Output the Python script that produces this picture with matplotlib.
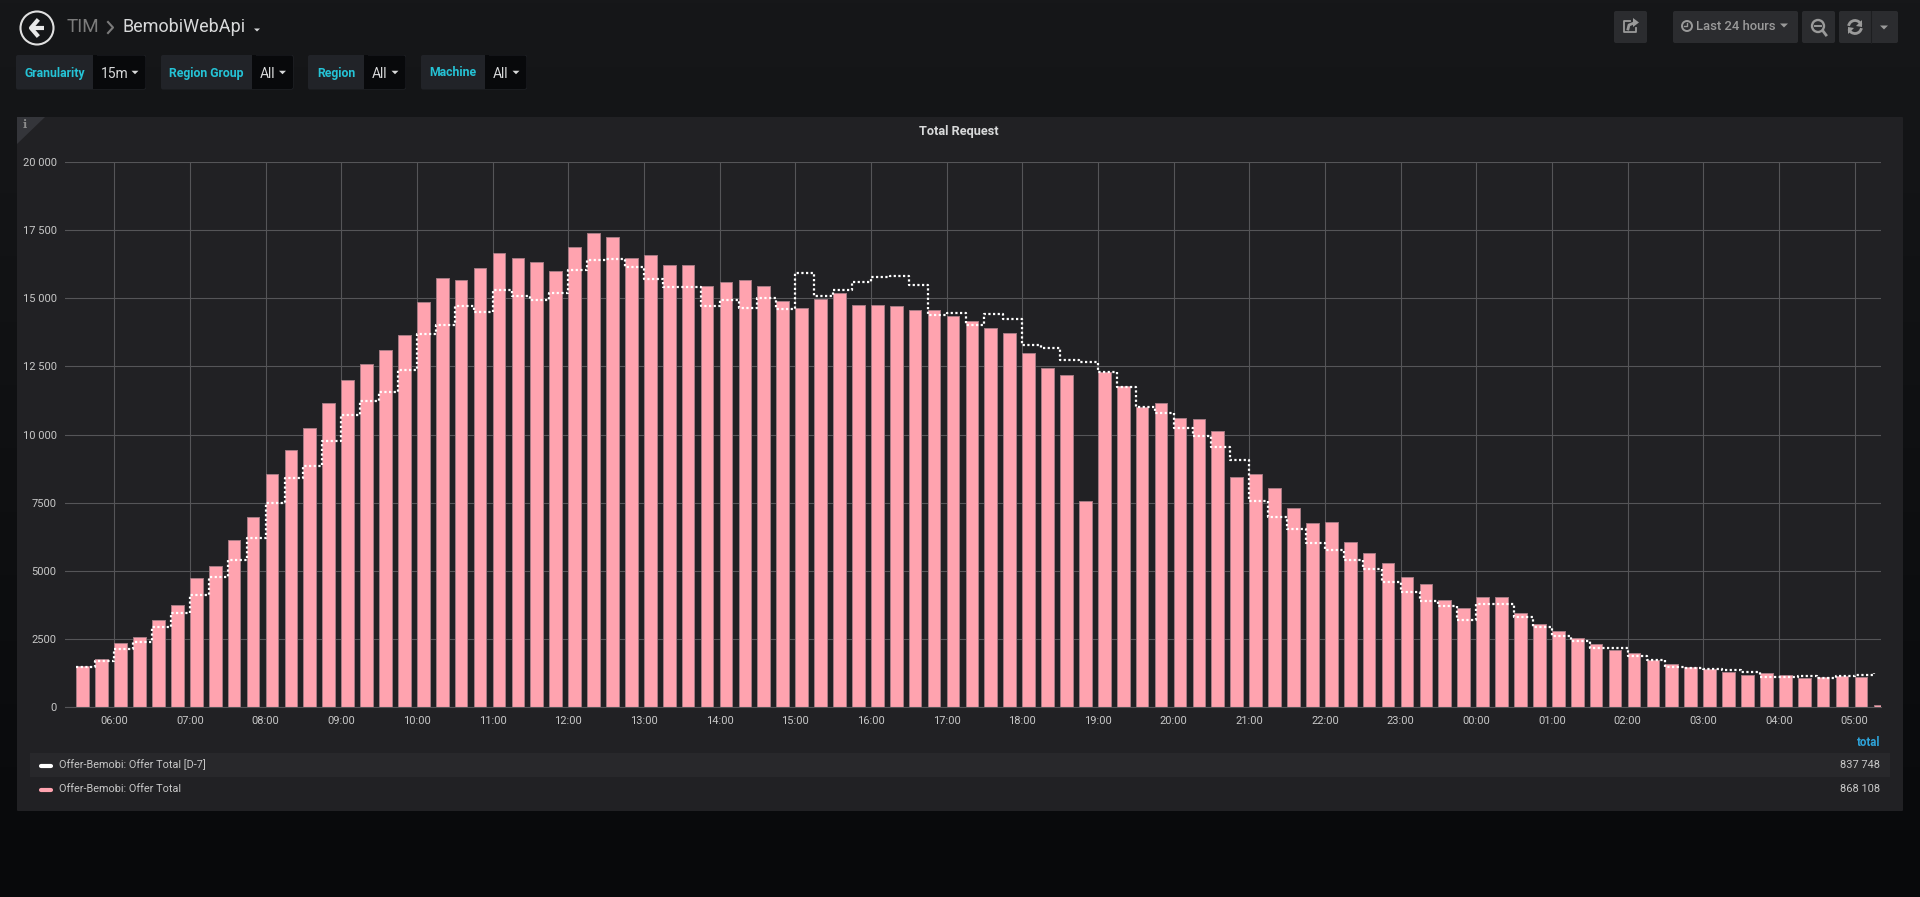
import numpy as np
import pandas as pd
import matplotlib
matplotlib.use('Agg')
import matplotlib.pyplot as plt
import matplotlib.dates as mdates
from matplotlib.patches import Rectangle, FancyBboxPatch, Polygon, Circle, Arc

plt.rcParams['font.family'] = ['Roboto', 'DejaVu Sans']

# values, one every 15 minutes from 05:30
offer_total = [1530, 1765, 2340, 2585, 3200, 3750, 4730, 5185, 6150, 6975,
               8555, 9450, 10245, 11165, 12010, 12575, 13115, 13665, 14880, 15735,
               15685, 16130, 16680, 16470, 16325, 16015, 16900, 17380, 17245, 16495,
               16605, 16240, 16215, 15440, 15590, 15660, 15440, 14890, 14655, 14975,
               15185, 14765, 14755, 14730, 14585, 14570, 14365, 14165, 13920, 13740,
               13005, 12440, 12170, 7575, 12280, 11780, 11000, 11175, 10600, 10565,
               10145, 8430, 8565, 8050, 7305, 6755, 6790, 6065, 5660, 5280,
               4780, 4520, 3935, 3625, 4030, 4045, 3445, 3050, 2795, 2525,
               2315, 2095, 1975, 1730, 1605, 1495, 1410, 1300, 1200, 1250,
               1175, 1090, 1105, 1150, 1105, 100]
offer_d7 = [1485, 1690, 2130, 2400, 2955, 3470, 4120, 4780, 5405, 6215,
            7510, 8395, 8835, 9755, 10710, 11240, 11555, 12380, 13690, 14005,
            14720, 14510, 15305, 15100, 14940, 15210, 16040, 16395, 16460, 16150,
            15710, 15415, 15405, 14730, 14940, 14645, 15000, 14620, 15930, 15085,
            15320, 15615, 15770, 15835, 15505, 14385, 14450, 14020, 14435, 14230,
            13285, 13175, 12735, 12660, 12280, 11740, 11005, 10810, 10235, 9940,
            9545, 9055, 7560, 6975, 6530, 6040, 5785, 5415, 5085, 4595,
            4230, 3910, 3725, 3200, 3800, 3800, 3310, 2930, 2600, 2415,
            2180, 2170, 1865, 1740, 1470, 1445, 1420, 1385, 1285, 1125,
            1115, 1140, 1065, 1150, 1175, 1240]
y_ticks = [0, 2500, 5000, 7500, 10000, 12500, 15000, 17500, 20000]
y_labels = ['0', '2500', '5000', '7500', '10 000', '12 500', '15 000', '17 500', '20 000']
legend_names = ['Offer-Bemobi: Offer Total [D-7]', 'Offer-Bemobi: Offer Total']
legend_totals = ['837 748', '868 108']

times = pd.date_range('2018-06-01 05:30', periods=len(offer_total), freq='15min')

W, H = 1920, 897
PINK = '#ffa3af'
CYAN = '#25c3d6'
TEXT = '#d8d9da'
GREY = '#9a9a9a'

fig = plt.figure(figsize=(W / 100, H / 100), dpi=100)

# everything around the graph is drawn in pixel coordinates
bg = fig.add_axes([0, 0, 1, 1])
bg.set_xlim(0, W)
bg.set_ylim(H, 0)
bg.axis('off')

c_top = np.array([0x16, 0x17, 0x19]) / 255
c_bot = np.array([0x08, 0x09, 0x0b]) / 255
grad = np.linspace(0, 1, 256)[:, None, None]
bg.imshow(c_top * (1 - grad) + c_bot * grad, extent=[0, W, H, 0], aspect='auto', zorder=0)


def box(x0, y0, x1, y1, color, r=2, z=1):
    bg.add_patch(FancyBboxPatch((x0 + r, y0 + r), x1 - x0 - 2 * r, y1 - y0 - 2 * r,
                                boxstyle='round,pad=%d,rounding_size=%d' % (r, r),
                                fc=color, ec='none', zorder=z))


def caret(x, y, color, hw=3.5, h=3.5):
    bg.add_patch(Polygon([(x - hw, y - h / 2), (x + hw, y - h / 2), (x, y + h / 2)],
                         fc=color, ec='none', zorder=3))


def label(x, y, s, size, color, ha='left', weight='normal'):
    bg.text(x, y, s, fontsize=size, color=color, ha=ha, va='center', weight=weight, zorder=3)


# header
bg.add_patch(Circle((37, 28), 16.5, fc='none', ec='#e0e0e0', lw=1.5, zorder=3))
bg.plot([30, 44], [28, 28], color='#e8e8e8', lw=3, zorder=3, solid_capstyle='butt')
bg.plot([37, 31, 37], [21, 28, 35], color='#e8e8e8', lw=3, zorder=3)
label(67, 27.5, 'TIM', 13.6, '#7b7b7b')
bg.plot([108, 113, 108], [22, 27.5, 33], color='#7b7b7b', lw=1.5, zorder=3)
label(123, 27.5, 'BemobiWebApi', 13, TEXT)
caret(257, 30, TEXT, 3, 3)

# template variables
variables = [('Granularity', '15m', 16, 93, 146),
             ('Region Group', 'All', 161, 252, 293.5),
             ('Region', 'All', 308, 364, 406),
             ('Machine', 'All', 421, 485, 527)]
for name, val, x0, xm, x1 in variables:
    box(x0, 55, x1, 89.5, '#212328')
    box(xm, 55.5, x1 - 0.5, 89, '#08090b')
    bg.add_patch(Rectangle((xm, 55.5), 4, 33.5, fc='#08090b', ec='none', zorder=1))
    label((x0 + xm) / 2, 73, name, 8.8, CYAN, ha='center', weight='bold')
    label(xm + 8, 73.5, val, 10, TEXT)
    caret(x1 - 11, 72.5, TEXT, 3.5, 3.5)

# buttons top right
BTN = '#2b2c2f'
box(1614, 11, 1647, 43, BTN)
box(1673, 11, 1798, 43, BTN)
box(1802, 11, 1835, 43, BTN)
box(1839, 11, 1898, 43, BTN)
bg.plot([1871, 1871], [11, 43], color='#1d1e20', lw=0.8, zorder=2)

# share icon
bg.plot([1630, 1624, 1624, 1636, 1636], [21, 21, 32, 32, 28], color=GREY, lw=1.3, zorder=3)
bg.plot([1628, 1629, 1634], [29, 25, 23], color=GREY, lw=2, zorder=3)
bg.add_patch(Polygon([(1633, 18), (1639, 22.5), (1633, 27)], fc=GREY, ec='none', zorder=3))

# time picker
bg.add_patch(Circle((1687, 26), 5, fc='none', ec=GREY, lw=1.4, zorder=3))
bg.plot([1687, 1687, 1684], [23, 26.5, 26.5], color=GREY, lw=1, zorder=3)
label(1696.5, 27, 'Last 24 hours', 9.4, GREY, weight='medium')
caret(1784, 25.5, GREY, 4, 4)

# zoom out icon
bg.add_patch(Circle((1818, 26), 6, fc='none', ec=GREY, lw=1.7, zorder=3))
bg.plot([1815, 1821], [26, 26], color=GREY, lw=1.4, zorder=3)
bg.plot([1823, 1826], [31, 35], color=GREY, lw=2, zorder=3)

# refresh icon
bg.add_patch(Arc((1855, 27), 13, 13, theta1=190, theta2=340, ec=GREY, lw=2, zorder=3))
bg.add_patch(Arc((1855, 27), 13, 13, theta1=10, theta2=160, ec=GREY, lw=2, zorder=3))
bg.add_patch(Polygon([(1862, 20), (1862, 27), (1856, 26)], fc=GREY, ec='none', zorder=3))
bg.add_patch(Polygon([(1848, 34), (1848, 27), (1854, 28)], fc=GREY, ec='none', zorder=3))
caret(1884, 27.5, GREY, 4, 4)

# panel
box(17, 117, 1903, 811, '#212124', r=1)
bg.add_patch(Polygon([(17, 117), (45, 117), (17, 144)], fc='#34353a', ec='none', zorder=2))
bg.text(24.5, 125, 'i', fontsize=8, color='#8e8e8e', ha='center', va='center', weight='bold',
        family='DejaVu Serif', zorder=3)
label(959, 131, 'Total Request', 9.2, TEXT, ha='center', weight='bold')

# legend
bg.add_patch(Rectangle((30, 752.7), 1860, 24, fc='#28282b', ec='none', zorder=2))
label(1880, 742.5, 'total', 8.3, '#2ea3d9', ha='right', weight='bold')
for i, (color, row_y) in enumerate(zip(['white', PINK], [764.5, 788.5])):
    bg.plot([41, 51], [row_y + 1.5, row_y + 1.5], color=color, lw=3, zorder=3, solid_capstyle='round')
    label(59, row_y, legend_names[i], 7.85, '#c8c8c8')
    label(1880, row_y, legend_totals[i], 7.95, '#c8c8c8', ha='right')

# graph
ax = fig.add_axes([65 / W, 1 - 707.3 / H, (1881 - 65) / W, (707.3 - 162) / H])
ax.patch.set_alpha(0)
ax.bar(times, offer_total, width=10 / 1440, align='edge', color=PINK,
       edgecolor='#a67a83', linewidth=0.7, zorder=2)
ax.plot(times, offer_d7, drawstyle='steps-post', color='white', lw=1.6,
        linestyle=(0, (1, 1.1)), zorder=3)

ax.set_xlim(pd.Timestamp('2018-06-01 05:20:53'), pd.Timestamp('2018-06-02 05:20:53'))
ax.set_ylim(0, 20000)
ax.xaxis.set_major_locator(mdates.HourLocator())
ax.xaxis.set_major_formatter(mdates.DateFormatter('%H:%M'))
ax.set_yticks(y_ticks)
ax.set_yticklabels(y_labels)
ax.grid(True, color='#555558', lw=0.8, zorder=1)
ax.set_axisbelow(True)
ax.tick_params(length=0, labelsize=8, labelcolor='#c8c8c8', pad=6)
for s in ['top', 'left', 'right']:
    ax.spines[s].set_visible(False)
ax.spines['bottom'].set_color('#555558')
ax.spines['bottom'].set_linewidth(0.8)

fig.savefig('out.png', dpi=100)
